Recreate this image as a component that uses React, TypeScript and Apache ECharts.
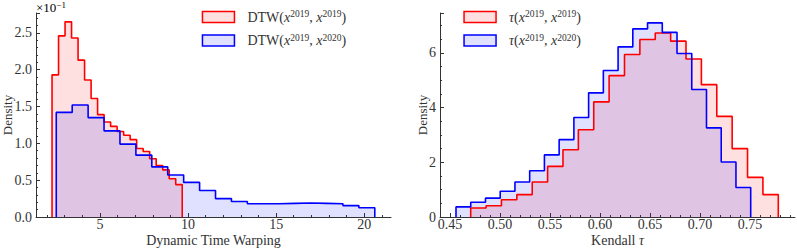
import React, { useEffect, useRef } from 'react';
import * as echarts from 'echarts';

// Histogram bin ranges [first edge, last edge] and bin heights
const dtwSameRange = [2.28, 9.67];
const dtwSame = [1.93, 2.46, 2.65, 2.43, 2.13, 1.86, 1.61, 1.39, 1.29, 1.23, 1.16, 1.11, 1.05, 0.93, 0.89, 0.79, 0.70, 0.64, 0.52, 0.44];
const dtwCrossRange = [2.52, 20.6];
const dtwCross = [1.42, 1.52, 1.35, 1.17, 0.99, 0.84, 0.68, 0.57, 0.47, 0.36, 0.25, 0.21, 0.18, 0.18, 0.185, 0.19, 0.185, 0.18, 0.155, 0.125];
const tauSameRange = [0.4707, 0.7783];
const tauSame = [0.33, 0.41, 0.63, 0.82, 1.28, 1.85, 2.46, 3.19, 4.21, 5.17, 5.94, 6.49, 6.73, 6.43, 5.78, 4.84, 3.68, 2.50, 1.45, 0.82];
const tauCrossRange = [0.456, 0.7507];
const tauCross = [0.37, 0.54, 0.69, 0.94, 1.28, 1.69, 2.27, 2.83, 3.64, 4.54, 5.36, 6.22, 6.88, 7.10, 6.75, 5.98, 4.66, 3.26, 2.01, 1.08];

const dtwTicks = [5, 10, 15, 20];
const tauTicks = [0.45, 0.5, 0.55, 0.6, 0.65, 0.7, 0.75];

const names = {
  dtwSame: 'DTW(x2019, x2019)',
  dtwCross: 'DTW(x2019, x2020)',
  tauSame: 'tau(x2019, x2019)',
  tauCross: 'tau(x2019, x2020)',
};

const FONT = '"Liberation Serif", "DejaVu Serif", serif';
const TXT = '#333';
const AX = '#333';

function histPoints(range: number[], heights: number[]) {
  const w = (range[1] - range[0]) / heights.length;
  const pts: number[][] = [[range[0], 0]];
  heights.forEach((h, i) => {
    pts.push([range[0] + i * w, h]);
    pts.push([range[0] + (i + 1) * w, h]);
  });
  pts.push([range[1], 0]);
  return pts;
}

function minorList(a: number, b: number, step: number) {
  const out: number[] = [];
  const n0 = Math.ceil(a / step - 1e-9);
  const n1 = Math.floor(b / step + 1e-9);
  for (let k = n0; k <= n1; k++) out.push(+(k * step).toFixed(6));
  return out;
}

const rich = {
  n: { fontFamily: FONT, fontSize: 14, color: TXT, lineHeight: 16 },
  i: { fontFamily: FONT, fontSize: 14, fontStyle: 'italic', color: TXT, lineHeight: 16 },
  s: { fontFamily: FONT, fontSize: 9.5, color: TXT, lineHeight: 9, verticalAlign: 'top' },
  g: { width: 8 },
};

const nameRich = {
  n: { fontFamily: FONT, fontSize: 14, color: TXT, lineHeight: 12 },
  i: { fontFamily: FONT, fontSize: 14, fontStyle: 'italic', color: TXT, lineHeight: 12 },
};

function legendFmt(name: string) {
  const pre = name.startsWith('DTW') ? '{n|DTW(}' : '{i|τ}{n|(}';
  const y2 = name.endsWith('2020)') ? '2020' : '2019';
  return `{g|}${pre}{i|x}{s|2019}{n|, }{i|x}{s|${y2}}{n|)}`;
}

function series(name: string, range: number[], h: number[], color: string, fill: string, xi: number, yi: number) {
  return {
    type: 'line',
    name,
    xAxisIndex: xi,
    yAxisIndex: yi,
    data: histPoints(range, h),
    showSymbol: false,
    symbol: 'none',
    lineStyle: { color, width: 1.6 },
    itemStyle: { color },
    areaStyle: { color: fill, opacity: 1 },
    silent: true,
  };
}

function xAxisMain(grid: number, min: number, max: number, ticks: number[], digits: number, name: string) {
  return {
    type: 'value', gridIndex: grid, min, max, position: 'bottom',
    axisLine: { show: true, lineStyle: { color: AX, width: 1 } },
    axisTick: { show: true, inside: true, length: 4, customValues: ticks, lineStyle: { color: AX } },
    axisLabel: { customValues: ticks, formatter: (v: number) => v.toFixed(digits), fontFamily: FONT, fontSize: 14, lineHeight: 12, color: TXT, margin: 1 },
    splitLine: { show: false },
    name, nameLocation: 'middle', nameGap: 17, nameMoveOverlap: false,
    nameTextStyle: { fontFamily: FONT, fontSize: 14, lineHeight: 12, color: TXT, rich: nameRich },
  };
}

function xAxisMinor(grid: number, min: number, max: number, step: number) {
  return {
    type: 'value', gridIndex: grid, min, max, position: 'bottom',
    axisLine: { show: false },
    axisTick: { show: true, inside: true, length: 2, customValues: minorList(min, max, step), lineStyle: { color: AX } },
    axisLabel: { show: false },
    splitLine: { show: false },
  };
}

function yAxis(grid: number, max: number, interval: number, digits: number, minorSplit: number, nameGap: number) {
  return {
    type: 'value', gridIndex: grid, min: 0, max, interval,
    axisLine: { show: true, lineStyle: { color: AX, width: 1 } },
    axisTick: { show: true, inside: true, length: 4, lineStyle: { color: AX } },
    minorTick: { show: true, splitNumber: minorSplit, length: 2, lineStyle: { color: AX } },
    axisLabel: { showMaxLabel: false, formatter: (v: number) => v.toFixed(digits), fontFamily: FONT, fontSize: 14, color: TXT, margin: 4 },
    splitLine: { show: false },
    minorSplitLine: { show: false },
    name: 'Density', nameLocation: 'middle', nameGap, nameMoveOverlap: false,
    nameTextStyle: { fontFamily: FONT, fontSize: 13, color: TXT },
  };
}

function legend(left: number, data: { name: string; color: string; fill: string }[]) {
  return {
    orient: 'vertical', left, top: 9, padding: 0, itemGap: 8.5,
    itemWidth: 32, itemHeight: 11, icon: 'rect',
    selectedMode: false,
    formatter: legendFmt,
    textStyle: { rich },
    data: data.map((d) => ({ name: d.name, icon: 'rect', itemStyle: { color: d.fill, borderColor: d.color, borderWidth: 1.5 } })),
  };
}

export default function App() {
  const ref = useRef<HTMLDivElement>(null);
  useEffect(() => {
    if (!ref.current) return;
    const chart = echarts.init(ref.current, undefined, { renderer: 'svg' });
    const redFill = 'rgba(255,0,0,0.12)';
    const blueFill = 'rgba(0,0,255,0.12)';
    chart.setOption({
      animation: false,
      backgroundColor: '#fff',
      grid: [
        { left: 36, top: 13, width: 355, height: 204, outerBoundsMode: 'none', containLabel: false },
        { left: 440, top: 13, width: 355, height: 204, outerBoundsMode: 'none', containLabel: false },
      ],
      xAxis: [
        xAxisMain(0, 1.37, 21.52, dtwTicks, 0, '{n|Dynamic Time Warping}'),
        xAxisMinor(0, 1.37, 21.52, 1),
        xAxisMain(1, 0.44, 0.795, tauTicks, 2, '{n|Kendall }{i|τ}'),
        xAxisMinor(1, 0.44, 0.795, 0.01),
      ],
      yAxis: [
        yAxis(0, 2.77, 0.5, 1, 5, 22),
        yAxis(1, 7.46, 2, 0, 4, 11.5),
      ],
      legend: [
        legend(201.7, [
          { name: names.dtwSame, color: '#ff0000', fill: redFill },
          { name: names.dtwCross, color: '#0000ff', fill: blueFill },
        ]),
        legend(463.3, [
          { name: names.tauSame, color: '#ff0000', fill: redFill },
          { name: names.tauCross, color: '#0000ff', fill: blueFill },
        ]),
      ],
      graphic: [
        {
          type: 'text', left: 36, top: 0,
          style: {
            text: '{a|×10}{s|−1}',
            rich: {
              a: { fontFamily: FONT, fontSize: 13, color: TXT, lineHeight: 14 },
              s: { fontFamily: FONT, fontSize: 9, color: TXT, lineHeight: 8, verticalAlign: 'top' },
            },
          },
        },
      ],
      series: [
        series(names.dtwSame, dtwSameRange, dtwSame, '#ff0000', redFill, 0, 0),
        series(names.dtwCross, dtwCrossRange, dtwCross, '#0000ff', blueFill, 0, 0),
        series(names.tauSame, tauSameRange, tauSame, '#ff0000', redFill, 2, 1),
        series(names.tauCross, tauCrossRange, tauCross, '#0000ff', blueFill, 2, 1),
      ],
    });
    return () => chart.dispose();
  }, []);
  return <div ref={ref} style={{ position: 'fixed', left: 0, top: 0, width: 797, height: 249 }} />;
}
